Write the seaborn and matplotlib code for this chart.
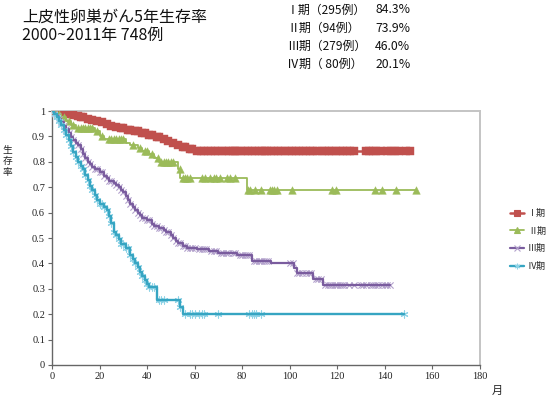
import numpy as np
import matplotlib
matplotlib.use("Agg")
import matplotlib.pyplot as plt
from matplotlib.lines import Line2D
import seaborn as sns

# Survival steps (month, survival) and censored months for each stage
stage1_t = [0, 4, 6, 8, 10, 12, 14, 16, 18, 20, 22, 24, 26, 28, 31, 34, 37, 40, 43, 46, 48, 50, 52, 54, 57, 60]
stage1_s = [1.0, 0.995, 0.99, 0.985, 0.98, 0.975, 0.97, 0.965, 0.96, 0.955, 0.948, 0.942, 0.937, 0.932,
            0.927, 0.921, 0.914, 0.906, 0.898, 0.89, 0.882, 0.875, 0.866, 0.858, 0.85, 0.843]
stage1_cens = [1, 2, 3, 5, 7, 9, 11, 12, 13, 15, 17, 19, 21, 23, 25, 27, 29, 30, 32, 33, 35, 36, 38, 39,
               41, 42, 44, 45, 47, 49, 51, 53, 55, 56, 58, 59,
               61, 62.5, 64, 65.5, 67, 68.5, 70, 71.5, 73, 74.5, 76, 77,
               78, 79.5, 81, 82.5, 84, 85.5, 87, 88.5, 89.5,
               90.5, 92, 93.5, 95, 96.5, 98, 99.5, 101, 102.5, 104, 105.5, 107, 108.5, 110, 111.5,
               113.5, 115, 116.5, 118, 119.5, 121, 122.5, 124, 125.5, 127,
               132, 133.5, 135, 136.5, 138.5, 141, 142.5, 144.5, 146, 149, 150.5]

stage2_t = [0, 2, 4, 6, 8, 10, 18, 20, 22, 31, 33, 36, 38, 41, 43, 45, 53, 54, 82]
stage2_s = [1.0, 0.99, 0.975, 0.96, 0.945, 0.935, 0.92, 0.90, 0.889, 0.876, 0.865, 0.855, 0.843,
            0.83, 0.815, 0.80, 0.77, 0.738, 0.69]
stage2_cens = [3, 5, 7, 9, 11, 12, 13, 14, 15, 16, 17, 19, 21, 24, 25, 26, 27, 28, 29, 30, 34, 37, 39,
               40, 42, 44.6, 46, 47, 48, 49, 50, 51, 53.8, 55, 56, 57, 58, 63, 64.5, 66.5, 68, 69, 70.6,
               73.6, 75, 77, 82.5, 83.5, 85.4, 88, 91.7, 92.5, 93.5, 94.6, 101, 118, 119.5, 136, 139,
               144.6, 153]

stage3_t = [0, 1, 2, 3, 4, 5, 6, 7, 8, 9, 10, 11, 12, 13, 14, 15, 16, 17, 18, 20, 22, 23, 24, 26, 27,
            28, 29, 30, 31, 32, 33, 34, 35, 36, 37, 38, 40, 42, 43, 45, 47, 48, 50, 51, 52, 53, 55,
            57, 61, 66, 70, 78, 84, 92, 102, 103, 110, 114]
stage3_s = [1.0, 0.99, 0.98, 0.97, 0.955, 0.94, 0.928, 0.912, 0.898, 0.885, 0.875, 0.865, 0.85, 0.83,
            0.815, 0.80, 0.79, 0.78, 0.77, 0.758, 0.745, 0.735, 0.725, 0.716, 0.71, 0.70, 0.69, 0.68,
            0.667, 0.65, 0.635, 0.622, 0.61, 0.60, 0.59, 0.58, 0.57, 0.557, 0.548, 0.538, 0.53, 0.522,
            0.51, 0.50, 0.49, 0.482, 0.47, 0.46, 0.455, 0.447, 0.44, 0.432, 0.41, 0.40, 0.38, 0.362,
            0.34, 0.313]
stage3_cens = [1, 2, 3, 4, 5, 6, 7, 8, 9, 10, 11, 12, 13, 14, 15, 16, 17, 18, 19, 20, 21, 22, 23, 24,
               25, 26, 27, 28, 29, 30, 31, 32, 33, 34, 35, 36, 37, 38, 39, 40, 41, 42, 43, 44, 45, 46,
               47, 48, 49, 50, 51, 52, 53, 54, 55, 56, 57, 58, 59, 60, 62, 63, 64, 65, 67, 68, 69, 71,
               72, 73, 74, 76, 77, 79, 80, 81, 82, 83, 85, 86, 87, 88, 89, 90, 91, 100, 101.5, 103, 104,
               105, 107, 108, 109, 111, 112, 113, 115, 116, 117, 118, 119, 120, 121, 122, 123, 125, 127,
               130, 131, 132, 134, 135, 136, 137, 139, 140, 141, 142]

stage4_t = [0, 1, 2, 3, 4, 5, 6, 7, 8, 9, 10, 11, 12, 13, 14, 15, 16, 17, 18, 19, 20, 22, 23, 24, 25,
            26, 27, 28, 29, 31, 33, 34, 35, 36, 37, 38, 39, 40, 41, 44, 54, 55]
stage4_s = [1.0, 0.99, 0.975, 0.96, 0.945, 0.925, 0.905, 0.885, 0.862, 0.838, 0.82, 0.80, 0.785, 0.77,
            0.75, 0.73, 0.706, 0.69, 0.67, 0.65, 0.635, 0.622, 0.61, 0.585, 0.56, 0.523, 0.51, 0.495,
            0.475, 0.46, 0.435, 0.418, 0.40, 0.385, 0.366, 0.35, 0.335, 0.32, 0.307, 0.255, 0.228, 0.20]
stage4_cens = [1, 2, 3, 4, 5, 6, 7, 8, 9, 10, 11, 12, 13, 14, 15, 16, 17, 18, 19, 20, 21, 22, 23, 24,
               25, 26, 27, 28, 29, 30, 31, 32, 33, 34, 35, 36, 37, 38, 39, 40, 41, 42, 43, 45, 46, 47,
               53, 54, 56, 58, 59, 60, 62, 63, 64, 70, 83, 84, 85, 86, 88, 148]

labels = ["Ⅰ期", "Ⅱ期", "Ⅲ期", "Ⅳ期"]
colors = ["#C0504D", "#9BBB59", "#7A5C9E", "#36A5C2"]
marker_colors = ["#C0504D", "#9BBB59", "#B3A2CC", "#8FD3E6"]
markers = ["s", "^", "x", (6, 2, 0)]
marker_sizes = [26, 30, 20, 26]
line_widths = [1.8, 1.3, 1.6, 1.7]

stage_rows = ["Ⅰ期（295例）", "Ⅱ期（94例）", "Ⅲ期（279例）", "Ⅳ期（ 80例）"]
stage_rates = ["84.3%", "73.9%", "46.0%", "20.1%"]

sns.set_theme(style="white")
plt.rcParams["font.family"] = ["Noto Sans CJK JP", "DejaVu Sans"]

fig = plt.figure(figsize=(5.5, 3.98), dpi=100)
ax = fig.add_axes([0.0945, 0.083, 0.778, 0.638])

series = [(stage1_t, stage1_s, stage1_cens), (stage2_t, stage2_s, stage2_cens),
          (stage3_t, stage3_s, stage3_cens), (stage4_t, stage4_s, stage4_cens)]

handles = []
for i, (t, s, cens) in enumerate(series):
    t_line = t + [max(cens)]
    s_line = s + [s[-1]]
    z = 2 + 2 * i
    idx = np.searchsorted(t, cens, side="right") - 1
    cy = np.array(s)[idx]
    if markers[i] in ["s", "^"]:
        sns.lineplot(x=t_line, y=s_line, drawstyle="steps-post", color=colors[i],
                     linewidth=line_widths[i], ax=ax, zorder=z)
        sns.scatterplot(x=cens, y=cy, marker=markers[i], s=marker_sizes[i], color=marker_colors[i],
                        edgecolor=marker_colors[i], linewidth=0.3, ax=ax, zorder=z + 1)
    else:
        ax.scatter(cens, cy, marker=markers[i], s=marker_sizes[i], color=marker_colors[i],
                   linewidths=0.8, zorder=z)
        sns.lineplot(x=t_line, y=s_line, drawstyle="steps-post", color=colors[i],
                     linewidth=line_widths[i], ax=ax, zorder=z + 1)
    handles.append(Line2D([0], [0], color=colors[i], linewidth=line_widths[i],
                          marker=markers[i], markersize=4, markerfacecolor=marker_colors[i],
                          markeredgecolor=marker_colors[i], markeredgewidth=0.8))

ax.set_xlim(0, 180)
ax.set_ylim(0, 1)
ax.set_xticks(range(0, 181, 20))
ax.set_yticks([0, 0.1, 0.2, 0.3, 0.4, 0.5, 0.6, 0.7, 0.8, 0.9, 1])
ax.set_yticklabels(["0", "0.1", "0.2", "0.3", "0.4", "0.5", "0.6", "0.7", "0.8", "0.9", "1"])
for lab in ax.get_xticklabels() + ax.get_yticklabels():
    lab.set_fontfamily("Liberation Serif")
    lab.set_fontsize(7.5)
ax.tick_params(axis="both", direction="out", length=3, width=0.8, color="#666666", pad=2,
               labelcolor="#222222", bottom=True, left=True)
for side in ["left", "bottom"]:
    ax.spines[side].set_color("#666666")
    ax.spines[side].set_linewidth(1.0)
for side in ["top", "right"]:
    ax.spines[side].set_color("#C4C4C4")
    ax.spines[side].set_linewidth(1.4)
ax.grid(False)
ax.set_xlabel("")
ax.set_ylabel("")

fig.legend(handles, labels, loc="upper left", bbox_to_anchor=(0.912, 0.496), frameon=False,
           fontsize=6.5, handlelength=1.6, handletextpad=0.4, labelspacing=0.95)

fig.text(0.04, 0.956, "上皮性卵巣がん5年生存率", fontsize=11.5, va="center", color="#111111")
fig.text(0.04, 0.912, "2000~2011年 748例", fontsize=11.5, va="center", color="#111111")
for k in range(4):
    y = 0.975 - k * 0.0455
    fig.text(0.522, y, stage_rows[k], fontsize=8.6, va="center", color="#111111")
    fig.text(0.682, y, stage_rates[k], fontsize=8.8, va="center", color="#111111")

for k, ch in enumerate("生存率"):
    fig.text(0.013, 0.624 - k * 0.028, ch, fontsize=7, ha="center", va="center")
fig.text(0.904, 0.018, "月", fontsize=8, ha="center", va="center")

fig.savefig("out.png", dpi=100)
